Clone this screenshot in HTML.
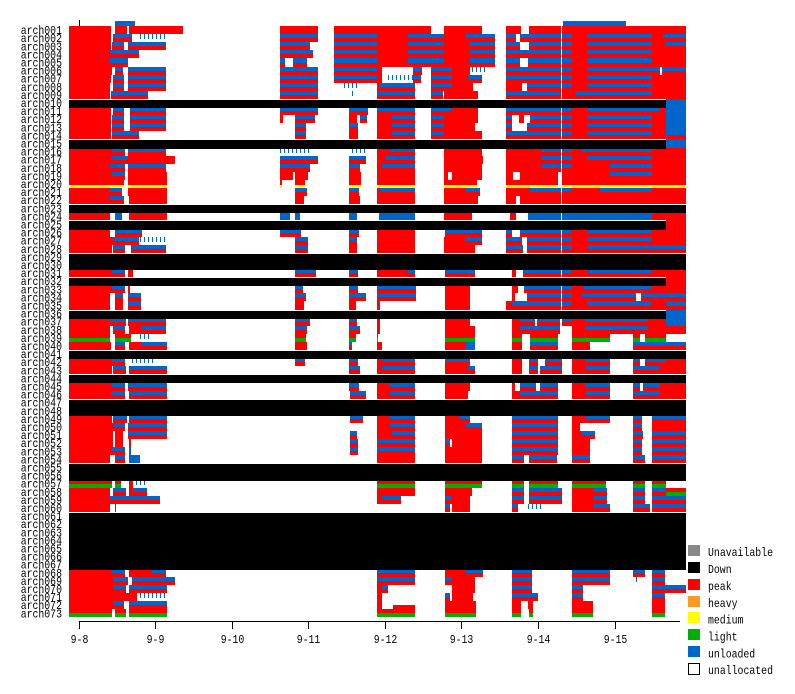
<!DOCTYPE html>
<html><head><meta charset="utf-8"><style>
html,body{margin:0;padding:0;background:#fff;}
svg{display:block;}
text{font-family:"Liberation Mono","DejaVu Sans Mono",monospace;font-size:12px;fill:#000;}
</style></head><body>
<svg id="s" xmlns="http://www.w3.org/2000/svg" width="795" height="694" viewBox="0 0 795 694" shape-rendering="crispEdges">
<defs>
<pattern id="tk" width="4" height="10" patternUnits="userSpaceOnUse"><rect x="0" y="0" width="1" height="10" fill="#0066cc"/></pattern>
</defs>
<rect x="0" y="0" width="795" height="694" fill="#fff"/>
<g id="data"></g>
<g id="blk"></g>
<rect x="115" y="21" width="20" height="5" fill="#0066cc"/>
<rect x="563" y="21" width="63" height="5" fill="#0066cc"/>
<rect x="79" y="20" width="1" height="6" fill="#000"/>
<g text-anchor="end">
<text x="62" y="34.1" textLength="41.3" lengthAdjust="spacingAndGlyphs">arch001</text>
<text x="62" y="42.2" textLength="41.3" lengthAdjust="spacingAndGlyphs">arch002</text>
<text x="62" y="50.3" textLength="41.3" lengthAdjust="spacingAndGlyphs">arch003</text>
<text x="62" y="58.4" textLength="41.3" lengthAdjust="spacingAndGlyphs">arch004</text>
<text x="62" y="66.5" textLength="41.3" lengthAdjust="spacingAndGlyphs">arch005</text>
<text x="62" y="74.6" textLength="41.3" lengthAdjust="spacingAndGlyphs">arch006</text>
<text x="62" y="82.7" textLength="41.3" lengthAdjust="spacingAndGlyphs">arch007</text>
<text x="62" y="90.8" textLength="41.3" lengthAdjust="spacingAndGlyphs">arch008</text>
<text x="62" y="98.9" textLength="41.3" lengthAdjust="spacingAndGlyphs">arch009</text>
<text x="62" y="107" textLength="41.3" lengthAdjust="spacingAndGlyphs">arch010</text>
<text x="62" y="115.1" textLength="41.3" lengthAdjust="spacingAndGlyphs">arch011</text>
<text x="62" y="123.2" textLength="41.3" lengthAdjust="spacingAndGlyphs">arch012</text>
<text x="62" y="131.3" textLength="41.3" lengthAdjust="spacingAndGlyphs">arch013</text>
<text x="62" y="139.4" textLength="41.3" lengthAdjust="spacingAndGlyphs">arch014</text>
<text x="62" y="147.5" textLength="41.3" lengthAdjust="spacingAndGlyphs">arch015</text>
<text x="62" y="155.6" textLength="41.3" lengthAdjust="spacingAndGlyphs">arch016</text>
<text x="62" y="163.7" textLength="41.3" lengthAdjust="spacingAndGlyphs">arch017</text>
<text x="62" y="171.8" textLength="41.3" lengthAdjust="spacingAndGlyphs">arch018</text>
<text x="62" y="179.9" textLength="41.3" lengthAdjust="spacingAndGlyphs">arch019</text>
<text x="62" y="188" textLength="41.3" lengthAdjust="spacingAndGlyphs">arch020</text>
<text x="62" y="196.1" textLength="41.3" lengthAdjust="spacingAndGlyphs">arch021</text>
<text x="62" y="204.2" textLength="41.3" lengthAdjust="spacingAndGlyphs">arch022</text>
<text x="62" y="212.3" textLength="41.3" lengthAdjust="spacingAndGlyphs">arch023</text>
<text x="62" y="220.4" textLength="41.3" lengthAdjust="spacingAndGlyphs">arch024</text>
<text x="62" y="228.5" textLength="41.3" lengthAdjust="spacingAndGlyphs">arch025</text>
<text x="62" y="236.6" textLength="41.3" lengthAdjust="spacingAndGlyphs">arch026</text>
<text x="62" y="244.7" textLength="41.3" lengthAdjust="spacingAndGlyphs">arch027</text>
<text x="62" y="252.8" textLength="41.3" lengthAdjust="spacingAndGlyphs">arch028</text>
<text x="62" y="260.9" textLength="41.3" lengthAdjust="spacingAndGlyphs">arch029</text>
<text x="62" y="269" textLength="41.3" lengthAdjust="spacingAndGlyphs">arch030</text>
<text x="62" y="277.1" textLength="41.3" lengthAdjust="spacingAndGlyphs">arch031</text>
<text x="62" y="285.2" textLength="41.3" lengthAdjust="spacingAndGlyphs">arch032</text>
<text x="62" y="293.3" textLength="41.3" lengthAdjust="spacingAndGlyphs">arch033</text>
<text x="62" y="301.4" textLength="41.3" lengthAdjust="spacingAndGlyphs">arch034</text>
<text x="62" y="309.5" textLength="41.3" lengthAdjust="spacingAndGlyphs">arch035</text>
<text x="62" y="317.6" textLength="41.3" lengthAdjust="spacingAndGlyphs">arch036</text>
<text x="62" y="325.7" textLength="41.3" lengthAdjust="spacingAndGlyphs">arch037</text>
<text x="62" y="333.8" textLength="41.3" lengthAdjust="spacingAndGlyphs">arch038</text>
<text x="62" y="341.9" textLength="41.3" lengthAdjust="spacingAndGlyphs">arch039</text>
<text x="62" y="350" textLength="41.3" lengthAdjust="spacingAndGlyphs">arch040</text>
<text x="62" y="358.1" textLength="41.3" lengthAdjust="spacingAndGlyphs">arch041</text>
<text x="62" y="366.2" textLength="41.3" lengthAdjust="spacingAndGlyphs">arch042</text>
<text x="62" y="374.3" textLength="41.3" lengthAdjust="spacingAndGlyphs">arch043</text>
<text x="62" y="382.4" textLength="41.3" lengthAdjust="spacingAndGlyphs">arch044</text>
<text x="62" y="390.5" textLength="41.3" lengthAdjust="spacingAndGlyphs">arch045</text>
<text x="62" y="398.6" textLength="41.3" lengthAdjust="spacingAndGlyphs">arch046</text>
<text x="62" y="406.7" textLength="41.3" lengthAdjust="spacingAndGlyphs">arch047</text>
<text x="62" y="414.8" textLength="41.3" lengthAdjust="spacingAndGlyphs">arch048</text>
<text x="62" y="422.9" textLength="41.3" lengthAdjust="spacingAndGlyphs">arch049</text>
<text x="62" y="431" textLength="41.3" lengthAdjust="spacingAndGlyphs">arch050</text>
<text x="62" y="439.1" textLength="41.3" lengthAdjust="spacingAndGlyphs">arch051</text>
<text x="62" y="447.2" textLength="41.3" lengthAdjust="spacingAndGlyphs">arch052</text>
<text x="62" y="455.3" textLength="41.3" lengthAdjust="spacingAndGlyphs">arch053</text>
<text x="62" y="463.4" textLength="41.3" lengthAdjust="spacingAndGlyphs">arch054</text>
<text x="62" y="471.5" textLength="41.3" lengthAdjust="spacingAndGlyphs">arch055</text>
<text x="62" y="479.6" textLength="41.3" lengthAdjust="spacingAndGlyphs">arch056</text>
<text x="62" y="487.7" textLength="41.3" lengthAdjust="spacingAndGlyphs">arch057</text>
<text x="62" y="495.8" textLength="41.3" lengthAdjust="spacingAndGlyphs">arch058</text>
<text x="62" y="503.9" textLength="41.3" lengthAdjust="spacingAndGlyphs">arch059</text>
<text x="62" y="512" textLength="41.3" lengthAdjust="spacingAndGlyphs">arch060</text>
<text x="62" y="520.1" textLength="41.3" lengthAdjust="spacingAndGlyphs">arch061</text>
<text x="62" y="528.2" textLength="41.3" lengthAdjust="spacingAndGlyphs">arch062</text>
<text x="62" y="536.3" textLength="41.3" lengthAdjust="spacingAndGlyphs">arch063</text>
<text x="62" y="544.4" textLength="41.3" lengthAdjust="spacingAndGlyphs">arch064</text>
<text x="62" y="552.5" textLength="41.3" lengthAdjust="spacingAndGlyphs">arch065</text>
<text x="62" y="560.6" textLength="41.3" lengthAdjust="spacingAndGlyphs">arch066</text>
<text x="62" y="568.7" textLength="41.3" lengthAdjust="spacingAndGlyphs">arch067</text>
<text x="62" y="576.8" textLength="41.3" lengthAdjust="spacingAndGlyphs">arch068</text>
<text x="62" y="584.9" textLength="41.3" lengthAdjust="spacingAndGlyphs">arch069</text>
<text x="62" y="593" textLength="41.3" lengthAdjust="spacingAndGlyphs">arch070</text>
<text x="62" y="601.1" textLength="41.3" lengthAdjust="spacingAndGlyphs">arch071</text>
<text x="62" y="609.2" textLength="41.3" lengthAdjust="spacingAndGlyphs">arch072</text>
<text x="62" y="617.3" textLength="41.3" lengthAdjust="spacingAndGlyphs">arch073</text>
</g>
<rect x="79" y="621" width="601" height="1" fill="#000"/>
<g fill="#000">
<rect x="79" y="621" width="1" height="8"/>
<rect x="155" y="621" width="1" height="8"/>
<rect x="232" y="621" width="1" height="8"/>
<rect x="308" y="621" width="1" height="8"/>
<rect x="385" y="621" width="1" height="8"/>
<rect x="461" y="621" width="1" height="8"/>
<rect x="538" y="621" width="1" height="8"/>
<rect x="615" y="621" width="1" height="8"/>
</g>
<g text-anchor="middle">
<text x="79.5" y="643" textLength="17.7" lengthAdjust="spacingAndGlyphs">9-8</text>
<text x="155.5" y="643" textLength="17.7" lengthAdjust="spacingAndGlyphs">9-9</text>
<text x="232.5" y="643" textLength="23.6" lengthAdjust="spacingAndGlyphs">9-10</text>
<text x="308.5" y="643" textLength="23.6" lengthAdjust="spacingAndGlyphs">9-11</text>
<text x="385.5" y="643" textLength="23.6" lengthAdjust="spacingAndGlyphs">9-12</text>
<text x="461.5" y="643" textLength="23.6" lengthAdjust="spacingAndGlyphs">9-13</text>
<text x="538.5" y="643" textLength="23.6" lengthAdjust="spacingAndGlyphs">9-14</text>
<text x="615.5" y="643" textLength="23.6" lengthAdjust="spacingAndGlyphs">9-15</text>
</g>
<g>
<rect x="688" y="545" width="12" height="11" fill="#888888"/>
<rect x="688" y="562" width="12" height="11" fill="#000000"/>
<rect x="688" y="579" width="12" height="11" fill="#ff0000"/>
<rect x="688" y="596" width="12" height="11" fill="#ff9922"/>
<rect x="688" y="612" width="12" height="11" fill="#ffff00"/>
<rect x="688" y="629" width="12" height="11" fill="#00b000"/>
<rect x="688" y="646" width="12" height="11" fill="#0066cc"/>
<rect x="688.5" y="663.5" width="11" height="11" fill="#fff" stroke="#000" stroke-width="1"/>
<text x="708" y="556" textLength="65" lengthAdjust="spacingAndGlyphs">Unavailable</text>
<text x="708" y="573" textLength="23.6" lengthAdjust="spacingAndGlyphs">Down</text>
<text x="708" y="590" textLength="23.6" lengthAdjust="spacingAndGlyphs">peak</text>
<text x="708" y="607" textLength="29.5" lengthAdjust="spacingAndGlyphs">heavy</text>
<text x="708" y="623.5" textLength="35.4" lengthAdjust="spacingAndGlyphs">medium</text>
<text x="708" y="640.5" textLength="29.5" lengthAdjust="spacingAndGlyphs">light</text>
<text x="708" y="657.5" textLength="47.2" lengthAdjust="spacingAndGlyphs">unloaded</text>
<text x="708" y="674" textLength="65" lengthAdjust="spacingAndGlyphs">unallocated</text>
</g>
</svg>
<script>
(function(){
var rows=[
"R69-111 R115-127 R129-183 R280-318 R334-431 R444-482 R506-521 R529-686",
"R69-111 M113-132 T140-166 M280-318 M334-377 R377-408 M408-444 R444-465 M465-495 M506-516 M520-572 R572-587 M587-652 R652-663 M663-686",
"R69-111 M112-124 M128-166 M280-310 M334-377 R377-408 M408-444 R444-470 M470-495 M506-520 M529-572 R572-587 M587-652 R652-665 M665-686",
"R69-110 M110-139 M280-313 M334-377 R377-408 M408-444 R444-470 M470-495 M506-572 R572-587 M587-652 R652-686",
"R69-110 M110-128 M280-285 M293-307 M334-377 R377-408 M408-444 R444-470 M470-495 M506-520 M528-572 R572-587 M587-652 R652-686",
"R69-112 M115-123 M128-166 M280-318 M334-377 R377-382 M413-422 M431-452 R452-470 T470-487 M506-572 R572-587 M587-660 M662-686",
"R69-111 M113-124 M128-166 M280-318 M334-377 R377-382 T385-413 M413-421 M431-452 R452-468 M468-482 M506-572 R572-587 M587-652 R652-686",
"R69-110 M113-124 M128-166 M280-318 T343-360 R377-380 M380-415 M431-452 R452-473 R506-522 M527-572 R572-587 M587-652 R652-686",
"R69-110 M111-148 M280-318 T349-353 M377-415 M431-443 R444-478 M506-560 R560-575 M575-652 R652-686",
"K69-666 B666-686",
"R69-111 M113-124 M130-166 M280-318 M349-368 M377-415 M431-452 R452-478 M506-572 R572-587 M587-660 R660-666 B666-686",
"R69-111 M112-124 M130-166 R280-283 M295-315 R349-357 M360-367 R377-392 M392-415 M431-444 R444-478 M506-512 R519-524 M530-572 R572-587 M587-652 R652-666 B666-686",
"R69-111 M112-124 M130-166 M295-306 M349-358 R377-392 M392-415 M431-444 R444-475 M506-512 M527-572 R572-587 M587-652 R652-666 B666-686",
"R69-111 M112-139 M295-306 R349-358 R377-392 M392-415 M431-444 R444-482 M506-572 R572-587 M587-652 R652-666 M666-686",
"K69-666 B666-686",
"R69-112 M112-125 M128-166 T280-310 T349-365 R377-390 M390-415 R444-482 R506-541 M541-572 R572-582 M582-652 R652-686",
"R69-111 M111-128 R128-175 M280-318 M349-366 R377-385 M385-415 R444-483 R506-541 M541-572 R572-587 M587-652 R652-686",
"R69-110 M110-125 M128-166 M280-310 M349-360 R377-382 M382-415 R444-482 R506-541 M541-572 R572-610 M610-652 R652-686",
"R69-112 M112-125 R128-167 R280-293 R295-308 R349-361 R377-415 R444-448 R452-482 R506-513 R520-558 R562-610 M610-652 R652-686",
"Y69-124 Y128-167 Y280-282 Y295-305 Y349-361 Y377-415 Y444-477 Y506-558 Y562-686",
"R69-110 M110-122 R128-167 M295-307 M349-359 R377-380 M380-415 R444-465 M465-480 R506-530 M530-572 R572-600 M600-652 R652-686",
"R69-110 M110-124 R129-167 R295-304 R349-360 R377-415 R444-478 R506-516 R520-686",
"K69-686",
"R69-110 B115-122 R129-167 B280-290 B295-300 B349-357 B379-415 R444-472 R510-516 B528-652 R652-686",
"K69-666 R666-686",
"R69-110 M115-142 M280-301 M349-359 R377-415 M445-482 M506-512 M520-572 R572-587 M587-652 R652-686",
"R69-113 M113-139 T140-166 M295-308 M349-357 R377-415 R444-465 M465-482 M506-522 M527-572 R572-587 M587-652 R652-686",
"R69-112 M113-125 M131-166 M295-308 R349-357 R377-415 R444-475 M506-523 M527-572 R572-587 M587-652 M652-686",
"K69-686",
"K69-686",
"R69-112 M112-125 R128-133 M295-316 M349-358 R377-408 M408-415 M445-475 R512-516 M523-572 R572-587 M587-652 R652-686",
"K69-666 R666-686",
"R69-112 M112-125 R128-130 M295-303 M349-358 M377-416 R445-470 R512-518 M524-572 R572-584 M584-652 R652-686",
"R69-110 M115-123 M128-141 M295-306 M349-366 M377-416 R445-470 R512-515 M527-572 R572-582 M582-636 M641-686",
"R69-110 R115-123 M128-141 R295-304 R349-356 R377-380 R445-470 R506-512 M512-572 R572-587 M587-652 R652-666 M666-686",
"K69-666 B666-686",
"R69-110 M110-126 M128-166 M295-310 M349-357 R377-380 R445-470 R512-520 M520-535 M537-560 M562-572 R572-585 M585-648 R648-666 B666-686",
"R69-110 M113-125 R129-141 M141-166 M295-307 M349-360 R377-380 R445-475 R512-520 M520-560 R572-585 M585-648 R648-686",
"G69-110 G115-131 T140-152 G295-306 G349-356 G377-378 G445-475 G512-522 G530-558 G572-610 G633-640 G645-666",
"R69-111 M115-125 R129-141 M141-167 R295-307 M349-352 R377-382 R445-465 B465-475 R512-522 M530-558 R572-590 M633-686",
"K69-686",
"R69-112 M112-125 T130-155 M295-305 M349-358 R377-382 M382-415 M445-470 R512-522 M529-538 M545-562 R572-585 M585-610 M633-640 M645-666 R666-686",
"R69-112 M113-126 M129-167 M349-360 R377-382 M382-415 R445-468 M468-475 R512-522 M529-538 M540-562 R572-585 M585-610 M633-660 R660-686",
"K69-686",
"R69-112 M112-125 M128-167 M349-359 R377-390 M390-415 R445-470 R512-515 M520-536 M540-558 R572-585 M585-610 M633-640 M643-660 R660-686",
"R69-111 M111-125 M129-167 M350-366 R377-390 M390-415 R445-468 R512-520 M520-558 R572-585 M585-610 M633-660 R660-686",
"K69-686",
"K69-686",
"R69-112 M113-127 M129-167 M350-363 R377-390 M390-415 R445-460 M460-470 M512-558 R572-585 M585-610 M633-642 M652-686",
"R69-113 M113-125 M128-167 R377-390 M390-415 R445-465 M465-482 M512-558 R572-580 M633-642 R652-686",
"R69-113 R115-123 M128-167 M350-357 R377-392 M392-415 R445-482 M512-558 R572-582 M582-595 M633-643 M652-686",
"R69-113 R115-123 R129-131 M350-358 M377-415 M445-450 R452-482 M512-558 R572-590 M633-642 M652-686",
"R69-112 M112-125 B129-131 M350-358 M377-415 R445-482 M512-558 R572-590 M633-642 M652-686",
"R69-110 M115-125 B129-140 R377-415 R445-482 M512-524 M529-557 M572-590 M633-645 M652-686",
"K69-686",
"K69-686",
"G69-112 G115-121 R129-133 T133-147 G377-415 G445-482 G512-524 G529-558 G572-606 G633-645 G652-666",
"R69-110 M113-126 R129-133 M133-147 R377-415 R445-472 M512-524 M529-562 R572-593 M593-607 M633-645 M652-666 G666-686",
"R69-110 M110-160 R377-382 M382-401 M445-452 R452-470 M512-524 M529-562 R572-593 M593-607 M633-645 M652-686",
"R69-110 R115-116 M445-450 R452-470 M512-518 T528-542 R572-593 M593-610 M633-650 M652-686",
"K69-686","K69-686","K69-686","K69-686","K69-686","K69-686","K69-686",
"R69-111 M111-125 R129-152 M152-166 M377-415 R445-465 M465-483 M512-532 M572-610 M633-645 M652-665",
"R69-113 M113-128 M132-175 M377-415 M445-452 R452-475 M512-532 M572-610 T633-637 M652-665",
"R69-113 M113-126 M129-167 R377-382 M382-388 R452-475 M512-532 M572-583 M652-686",
"R69-137 T138-167 R377-382 M445-450 R452-473 M512-538 M572-583 M652-665",
"R69-113 M113-124 M129-167 R377-382 U393-415 R445-476 R512-521 R528-533 R572-593 R652-665",
"G69-112 G115-126 G129-167 G377-415 G445-476 G512-521 G529-533 G572-593 G652-665"
];
var NS='http://www.w3.org/2000/svg';
var g=document.getElementById('data'),gk=document.getElementById('blk');
var RED='#ff0000',BLU='#0066cc',YEL='#ffff00',GRN='#00b000';
function rc(p,x,y,w,h,f){if(w<=0||h<=0)return;var e=document.createElementNS(NS,'rect');e.setAttribute('x',x);e.setAttribute('y',y);e.setAttribute('width',w);e.setAttribute('height',h);e.setAttribute('fill',f);p.appendChild(e);}
rows.forEach(function(s,i){
  var y0=Math.round(26+i*8.1),y1=Math.round(26+(i+1)*8.1),hm=Math.round((y0+y1)/2);
  var isK=false;
  s.split(' ').forEach(function(t){
    var k=t.charAt(0),ab=t.slice(1).split('-'),a=+ab[0],b=+ab[1],w=b-a;
    if(k==='R')rc(g,a,y0,w,y1-y0,RED);
    else if(k==='B')rc(g,a,y0,w,y1-y0,BLU);
    else if(k==='M'){rc(g,a,y0,w,hm-y0,BLU);rc(g,a,hm,w,y1-hm,RED);}
    else if(k==='T')rc(g,a,y0,w,hm-y0+1,'url(#tk)');
    else if(k==='U')rc(g,a,hm,w,y1-hm,RED);
    else if(k==='Y'){rc(g,a,y0,w,y1-y0-3,RED);rc(g,a,y1-3,w,3,YEL);}
    else if(k==='G'){rc(g,a,y0,w,hm-y0,RED);rc(g,a,hm,w,y1-hm,GRN);}
    else if(k==='K'){isK=true;rc(gk,a,y0+1,w,y1-y0,'#000');}
  });
  if(!isK&&i<37){rc(g,561,y0,1,y1-y0,'#fff');}
});
})();
</script>
</body></html>
